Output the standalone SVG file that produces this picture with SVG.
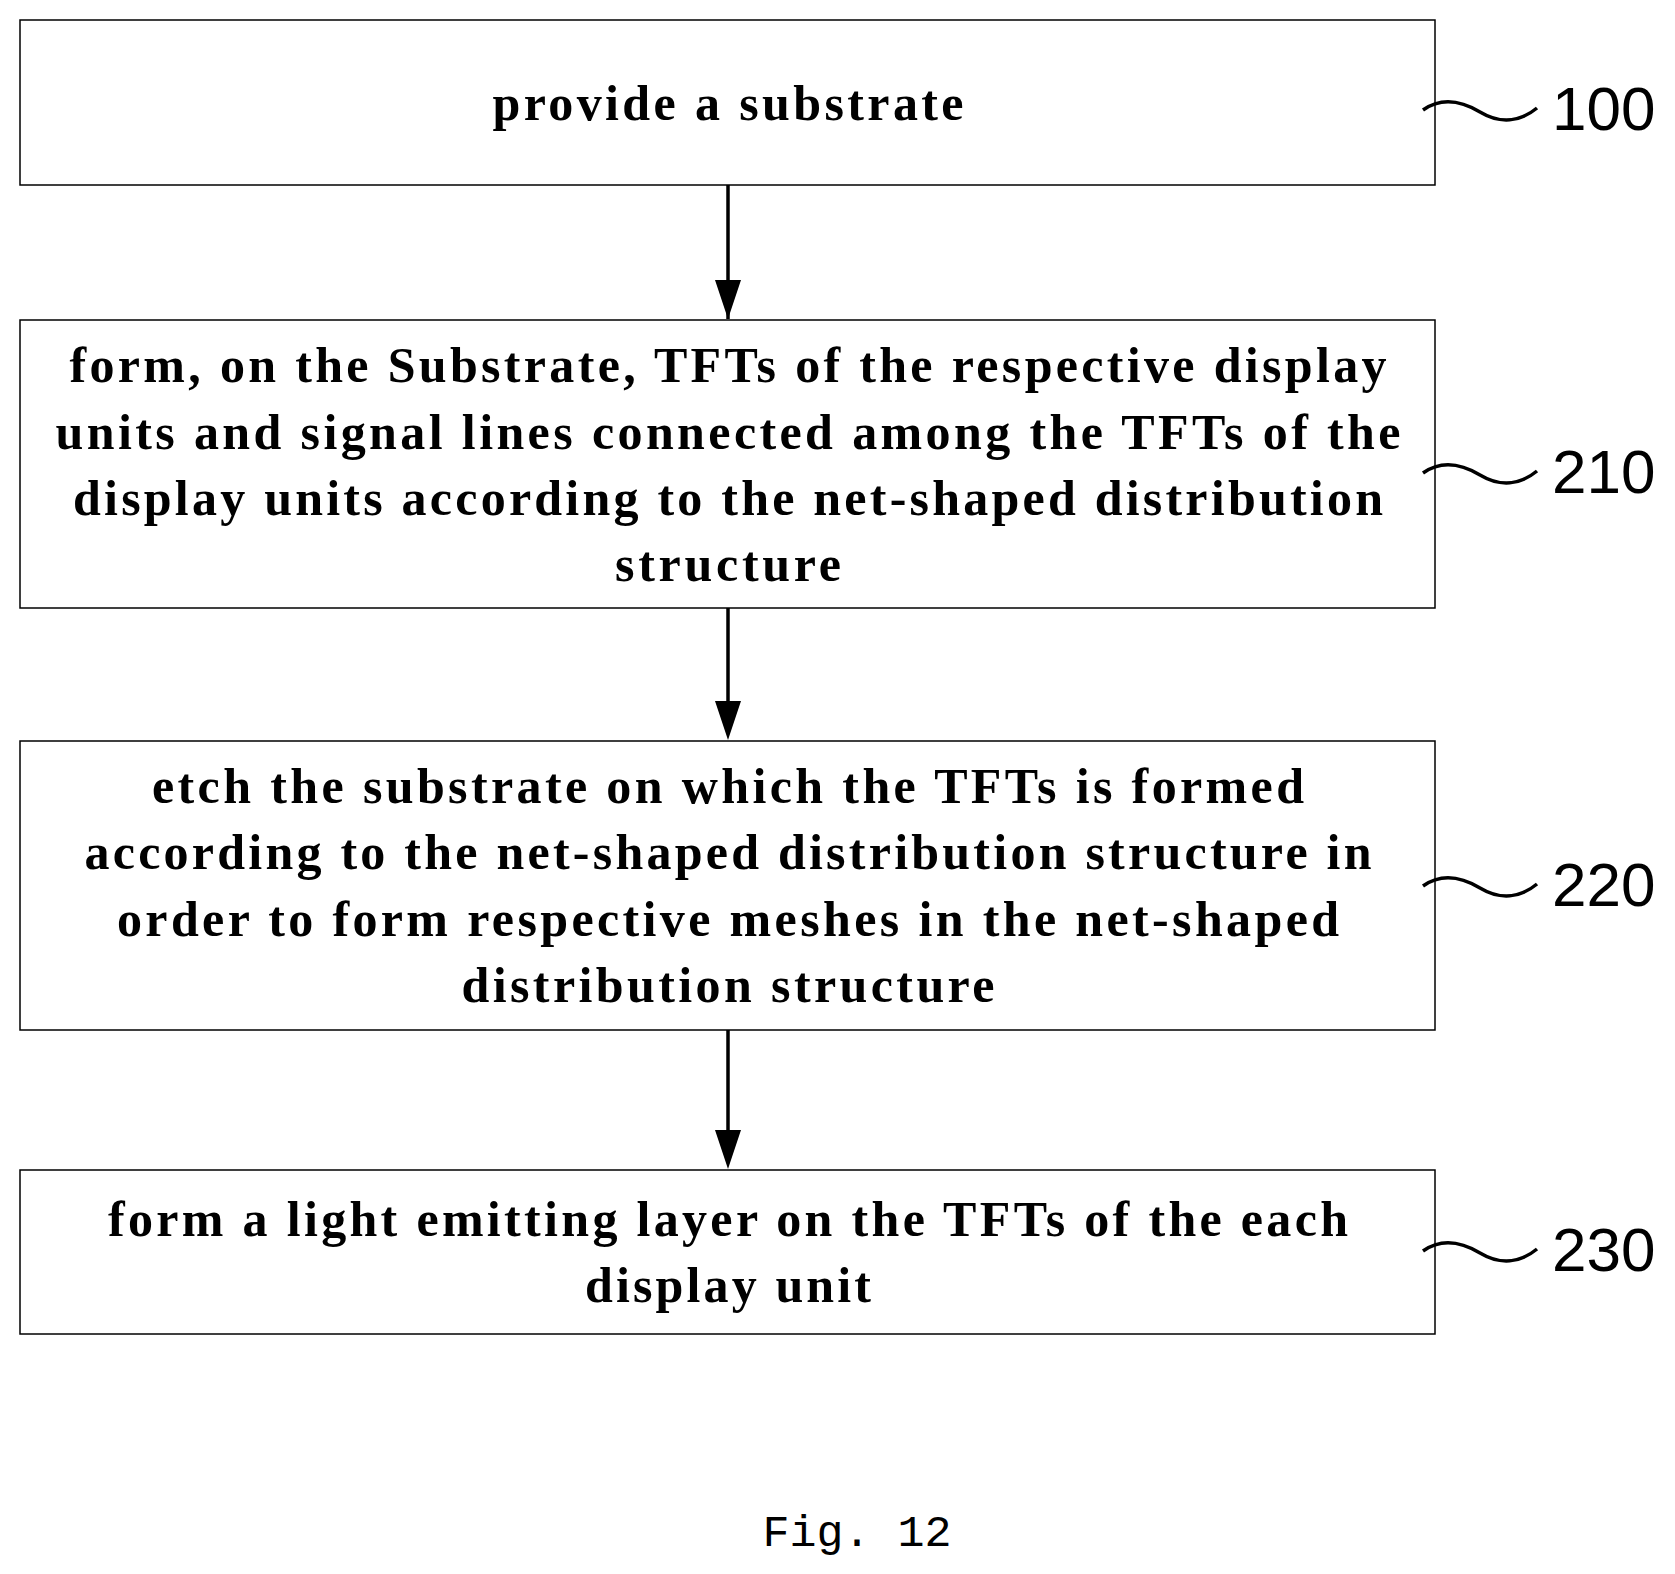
<svg xmlns="http://www.w3.org/2000/svg" width="1675" height="1574" viewBox="0 0 1675 1574">
<style>
.box{fill:#fff;stroke:#000;stroke-width:1.5}
.t{font-family:"Liberation Serif",serif;font-weight:bold;font-size:50px;text-anchor:middle}
.lab{font-family:"Liberation Sans",sans-serif;font-size:62px}
.w{fill:none;stroke:#000;stroke-width:3.5}
.c{stroke:#000;stroke-width:3.5;marker-end:url(#a)}
</style>
<defs><marker id="a" markerWidth="26" markerHeight="40" refX="13" refY="40" orient="auto-start-reverse" markerUnits="userSpaceOnUse" viewBox="0 0 26 40"><path d="M0,0 L26,0 L13,40 z"/></marker></defs>
<rect width="1675" height="1574" fill="#fff"/>
<g id="connectors">
<line class="c" x1="728" y1="185" x2="728" y2="319" style="marker-end:none"/>
<path d="M715,280 L741,280 L728,319 z"/>
<line class="c" x1="728" y1="608" x2="728" y2="720" style="marker-end:none"/>
<path d="M715,701 L741,701 L728,740 z"/>
<line class="c" x1="728" y1="1030" x2="728" y2="1150" style="marker-end:none"/>
<path d="M715,1130 L741,1130 L728,1169 z"/>
</g>
<g id="n100"><rect class="box" x="20" y="20" width="1415" height="165"/>
<text class="t" x="728" y="120" textLength="471" lengthAdjust="spacing">provide a substrate</text>
<path class="w" d="M1423,110 C1440,98 1460,100 1480,112 C1500,124 1520,122 1537,108"/><text class="lab" x="1552" y="130">100</text></g>
<g id="n210"><rect class="box" x="20" y="320" width="1415" height="288"/>
<text class="t" x="728" y="382" textLength="1317" lengthAdjust="spacing">form, on the Substrate, TFTs of the respective display</text>
<text class="t" x="728" y="449" textLength="1345" lengthAdjust="spacing">units and signal lines connected among the TFTs of the</text>
<text class="t" x="728" y="515" textLength="1310" lengthAdjust="spacing">display units according to the net-shaped distribution</text>
<text class="t" x="728" y="581" textLength="226" lengthAdjust="spacing">structure</text>
<path class="w" d="M1423,473 C1440,461 1460,463 1480,475 C1500,487 1520,485 1537,471"/><text class="lab" x="1552" y="493">210</text></g>
<g id="n220"><rect class="box" x="20" y="741" width="1415" height="289"/>
<text class="t" x="728" y="803" textLength="1152" lengthAdjust="spacing">etch the substrate on which the TFTs is formed</text>
<text class="t" x="728" y="869" textLength="1287" lengthAdjust="spacing">according to the net-shaped distribution structure in</text>
<text class="t" x="728" y="936" textLength="1222" lengthAdjust="spacing">order to form respective meshes in the net-shaped</text>
<text class="t" x="728" y="1002" textLength="533" lengthAdjust="spacing">distribution structure</text>
<path class="w" d="M1423,886 C1440,874 1460,876 1480,888 C1500,900 1520,898 1537,884"/><text class="lab" x="1552" y="906">220</text></g>
<g id="n230"><rect class="box" x="20" y="1170" width="1415" height="164"/>
<text class="t" x="728" y="1236" textLength="1240" lengthAdjust="spacing">form a light emitting layer on the TFTs of the each</text>
<text class="t" x="728" y="1302" textLength="286" lengthAdjust="spacing">display unit</text>
<path class="w" d="M1423,1251 C1440,1239 1460,1241 1480,1253 C1500,1265 1520,1263 1537,1249"/><text class="lab" x="1552" y="1271">230</text></g>
<text x="857" y="1546" font-family="Liberation Mono,monospace" font-size="45" text-anchor="middle">Fig. 12</text>
</svg>
